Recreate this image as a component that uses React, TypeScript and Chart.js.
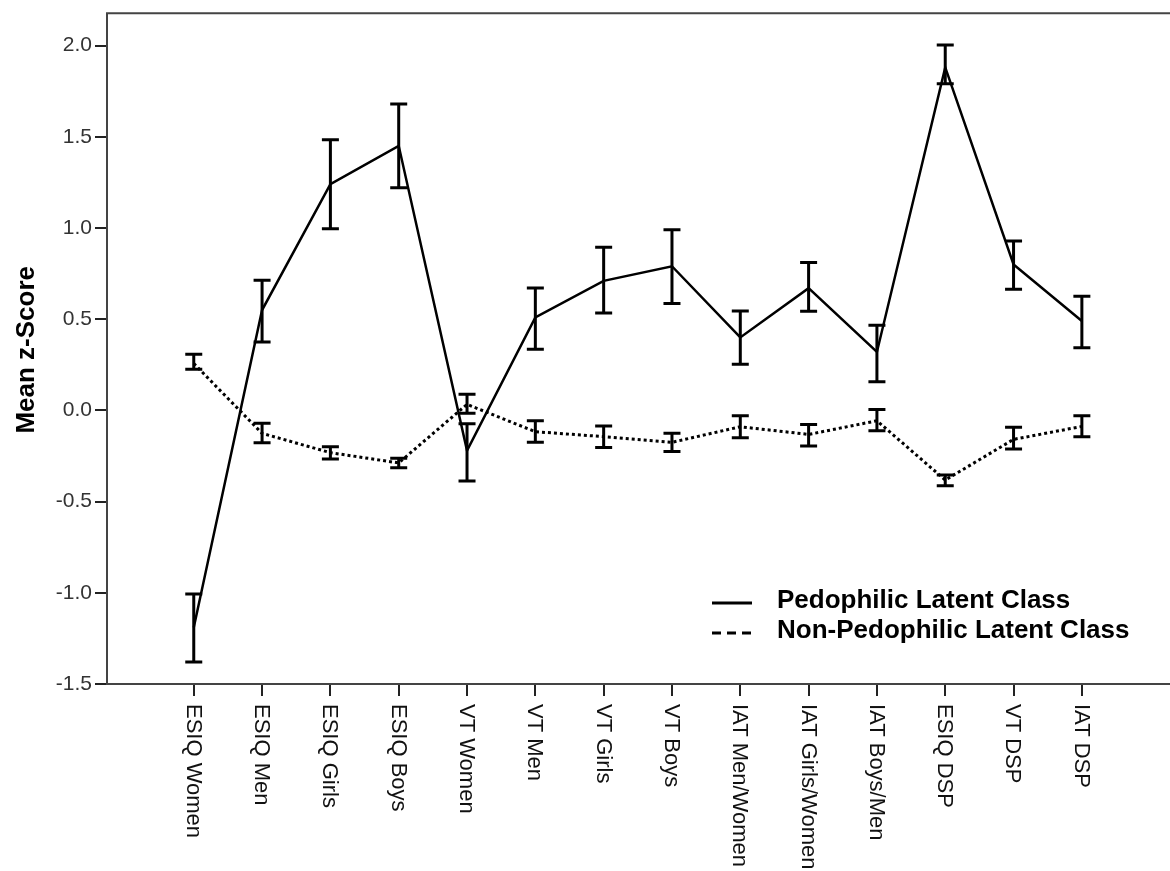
import React, { useEffect, useRef } from 'react';
import { Chart, registerables } from 'chart.js';
Chart.register(...registerables);

const categories = [
  'ESIQ Women', 'ESIQ Men', 'ESIQ Girls', 'ESIQ Boys', 'VT Women', 'VT Men', 'VT Girls',
  'VT Boys', 'IAT Men/Women', 'IAT Girls/Women', 'IAT Boys/Men', 'ESIQ DSP', 'VT DSP', 'IAT DSP',
];

const pedoMean = [-1.19, 0.55, 1.24, 1.45, -0.22, 0.51, 0.71, 0.79, 0.40, 0.67, 0.32, 1.88, 0.80, 0.49];
const pedoLow = [-1.38, 0.375, 0.995, 1.22, -0.387, 0.335, 0.534, 0.586, 0.253, 0.543, 0.157, 1.79, 0.664, 0.343];
const pedoHigh = [-1.006, 0.713, 1.483, 1.68, -0.073, 0.671, 0.894, 0.99, 0.545, 0.81, 0.467, 2.003, 0.928, 0.626];

const nonMean = [0.257, -0.126, -0.232, -0.288, 0.033, -0.117, -0.144, -0.175, -0.09, -0.132, -0.057, -0.382, -0.159, -0.088];
const nonLow = [0.226, -0.177, -0.267, -0.314, -0.016, -0.175, -0.203, -0.226, -0.15, -0.195, -0.112, -0.413, -0.212, -0.144];
const nonHigh = [0.307, -0.071, -0.199, -0.263, 0.089, -0.057, -0.086, -0.126, -0.029, -0.077, 0.005, -0.354, -0.093, -0.029];

const yTicks = [-1.5, -1.0, -0.5, 0.0, 0.5, 1.0, 1.5, 2.0];
const yFrameTop = 2.177;
const legendLabels = ['Pedophilic Latent Class', 'Non-Pedophilic Latent Class'];

const FONT = '"Liberation Sans", Arial, sans-serif';

export default function App() {
  const ref = useRef<HTMLCanvasElement>(null);

  useEffect(() => {
    const canvas = ref.current!;

    const errorBars = {
      id: 'errorBars',
      afterDatasetsDraw(chart: any) {
        const c = chart.ctx;
        const xs = chart.scales.x;
        const ys = chart.scales.y;
        c.save();
        c.strokeStyle = '#000';
        c.lineWidth = 3;
        c.setLineDash([]);
        const series: number[][][] = [[pedoLow, pedoHigh], [nonLow, nonHigh]];
        for (const [lo, hi] of series) {
          lo.forEach((l, i) => {
            const x = xs.getPixelForValue(i);
            const y1 = ys.getPixelForValue(l);
            const y2 = ys.getPixelForValue(hi[i]);
            c.beginPath();
            c.moveTo(x, y1);
            c.lineTo(x, y2);
            c.moveTo(x - 8.5, y1);
            c.lineTo(x + 8.5, y1);
            c.moveTo(x - 8.5, y2);
            c.lineTo(x + 8.5, y2);
            c.stroke();
          });
        }
        c.restore();
      },
    };

    const decorations = {
      id: 'decorations',
      afterDraw(chart: any) {
        const c = chart.ctx;
        const xs = chart.scales.x;
        const ys = chart.scales.y;
        const area = chart.chartArea;
        c.save();
        // frame: top border and left axis extension
        const topY = ys.getPixelForValue(yFrameTop);
        c.strokeStyle = '#444';
        c.lineWidth = 2;
        c.setLineDash([]);
        c.beginPath();
        c.moveTo(area.left - 1, topY);
        c.lineTo(chart.width, topY);
        c.moveTo(area.left, topY);
        c.lineTo(area.left, area.top + 1);
        c.stroke();

        // x labels, rotated clockwise
        c.fillStyle = '#111';
        c.font = `22px ${FONT}`;
        c.textAlign = 'left';
        c.textBaseline = 'middle';
        categories.forEach((lab, i) => {
          const x = xs.getPixelForValue(i);
          c.save();
          c.translate(x - 1, area.bottom + 20);
          c.rotate(Math.PI / 2);
          c.fillText(lab, 0, 0);
          c.restore();
        });

        // legend
        c.strokeStyle = '#000';
        c.lineWidth = 3;
        c.beginPath();
        c.moveTo(712, 603);
        c.lineTo(752, 603);
        c.stroke();
        c.setLineDash([9, 6]);
        c.beginPath();
        c.moveTo(712, 633);
        c.lineTo(752, 633);
        c.stroke();
        c.setLineDash([]);
        c.fillStyle = '#000';
        c.font = `bold 26px ${FONT}`;
        c.textAlign = 'left';
        c.textBaseline = 'middle';
        c.fillText(legendLabels[0], 777, 601);
        c.fillText(legendLabels[1], 777, 631);
        c.restore();
      },
    };

    const chart = new Chart(canvas, {
      type: 'line',
      data: {
        datasets: [
          {
            label: legendLabels[0],
            data: pedoMean.map((v, i) => ({ x: i, y: v })),
            borderColor: '#000',
            borderWidth: 2.5,
            pointRadius: 0,
            tension: 0,
            fill: false,
          },
          {
            label: legendLabels[1],
            data: nonMean.map((v, i) => ({ x: i, y: v })),
            borderColor: '#000',
            borderWidth: 3,
            borderDash: [3, 3],
            pointRadius: 0,
            tension: 0,
            fill: false,
          },
        ],
      },
      options: {
        animation: false,
        responsive: false,
        devicePixelRatio: 1,
        layout: { padding: { top: 9, left: 0, right: 0, bottom: 0 } },
        plugins: {
          legend: { display: false },
          tooltip: { enabled: false },
        },
        scales: {
          x: {
            type: 'linear',
            min: -1.27,
            max: 14.29,
            afterBuildTicks: (scale: any) => {
              scale.ticks = categories.map((_, i) => ({ value: i }));
            },
            afterFit: (scale: any) => {
              scale.height = 187;
            },
            ticks: { display: false },
            grid: {
              display: true,
              drawOnChartArea: false,
              drawTicks: true,
              tickLength: 12,
              color: '#222',
              lineWidth: 2,
            },
            border: { display: true, color: '#444', width: 2 },
          },
          y: {
            type: 'linear',
            min: -1.5,
            max: 2.164,
            afterBuildTicks: (scale: any) => {
              scale.ticks = yTicks.map((v) => ({ value: v }));
            },
            afterFit: (scale: any) => {
              scale.width = 107;
            },
            ticks: {
              color: '#333',
              font: { family: FONT, size: 21 },
              padding: 3,
              callback: (v: any) => Number(v).toFixed(1),
            },
            grid: {
              display: true,
              drawOnChartArea: false,
              drawTicks: true,
              tickLength: 12,
              color: '#222',
              lineWidth: 2,
            },
            border: { display: true, color: '#444', width: 2 },
            title: {
              display: true,
              text: 'Mean z-Score',
              color: '#000',
              font: { family: FONT, size: 26, weight: 'bold' },
              padding: { top: 11, bottom: 0 },
            },
          },
        },
      },
      plugins: [errorBars, decorations],
    } as any);

    return () => chart.destroy();
  }, []);

  return (
    <div style={{ position: 'absolute', left: 0, top: 0, width: 1170, height: 871, background: '#fff' }}>
      <canvas ref={ref} width={1170} height={871} style={{ display: 'block', width: 1170, height: 871 }} />
    </div>
  );
}
